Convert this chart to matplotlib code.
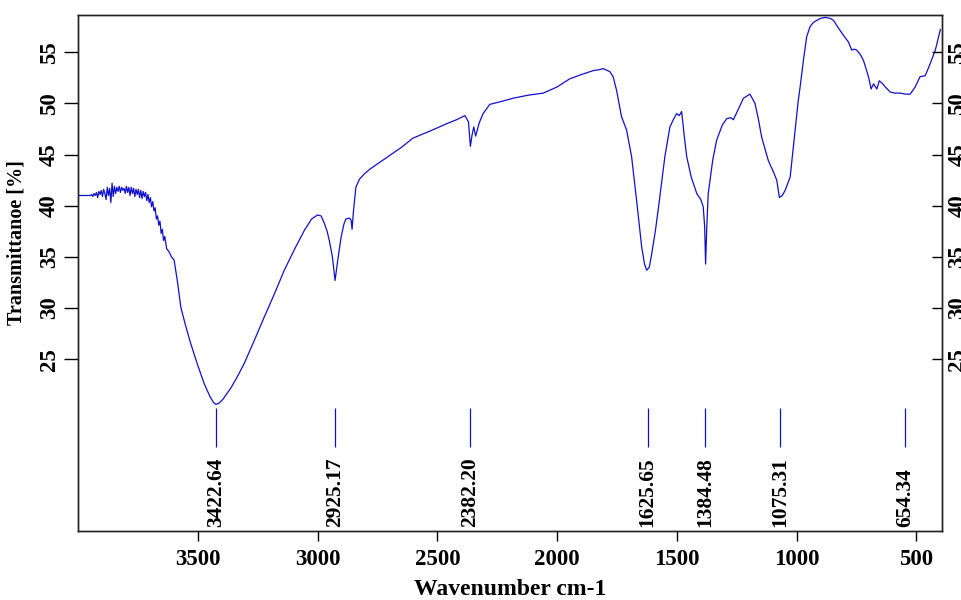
import matplotlib
matplotlib.use("Agg")
import matplotlib.pyplot as plt

plt.rcParams['font.family'] = ['Liberation Serif', 'DejaVu Serif']
plt.rcParams['font.weight'] = 'bold'

# spectrum (wavenumber in cm-1, transmittance in %)
wavenumber = [
    4000, 3980, 3960, 3948, 3943, 3938, 3933, 3928, 3923, 3918, 3913, 3908,
    3903, 3898, 3893, 3888, 3883, 3878, 3873, 3868, 3863, 3858, 3853, 3848,
    3843, 3838, 3833, 3828, 3823, 3818, 3813, 3808, 3803, 3798, 3793, 3788,
    3783, 3778, 3773, 3768, 3763, 3758, 3753, 3748, 3743, 3738, 3733, 3728,
    3723, 3718, 3713, 3708, 3703, 3698, 3693, 3688, 3683, 3678, 3673, 3668,
    3663, 3658, 3653, 3648, 3643, 3638, 3630, 3620, 3610, 3599, 3585, 3571,
    3550, 3529, 3500, 3473, 3450, 3435, 3425, 3412, 3395, 3380, 3362, 3335,
    3306, 3265, 3223, 3180, 3139, 3095, 3055, 3025, 3000, 2985, 2972, 2960,
    2951, 2938, 2927, 2915, 2902, 2890, 2882, 2867, 2860, 2856, 2850, 2840,
    2825, 2805, 2780, 2749, 2700, 2650, 2602, 2530, 2462, 2420, 2385, 2370,
    2362, 2355, 2348, 2340, 2325, 2309, 2281, 2230, 2184, 2120, 2058, 2000,
    1947, 1900, 1849, 1821, 1808, 1780, 1766, 1752, 1731, 1710, 1689, 1668,
    1647, 1635, 1626, 1615, 1605, 1590, 1578, 1550, 1529, 1515, 1501, 1490,
    1480, 1470, 1459, 1440, 1417, 1400, 1390, 1384, 1380, 1375, 1369, 1350,
    1334, 1310, 1292, 1275, 1264, 1240, 1222, 1195, 1174, 1160, 1146, 1118,
    1095, 1083, 1072, 1060, 1048, 1027, 1010, 993, 986, 970, 958, 944,
    930, 916, 900, 881, 860, 846, 818, 800, 784, 770, 760, 749,
    735, 721, 700, 689, 679, 665, 655, 640, 630, 609, 590, 568,
    545, 526, 505, 485, 463, 442, 421, 400,
]
transmittance = [
    41.0, 41.0, 41.0, 41.0, 41.1, 40.9, 41.2, 41.0, 41.3, 40.8, 41.4, 41.1,
    41.5, 40.9, 41.6, 41.2, 40.6, 41.8, 41.0, 41.7, 40.3, 42.2, 40.9, 41.9,
    41.2, 41.8, 41.4, 41.9, 41.3, 41.8, 41.5, 41.7, 41.2, 41.9, 41.3, 41.8,
    41.0, 41.8, 41.2, 41.7, 40.9, 41.6, 41.1, 41.6, 40.8, 41.5, 40.7, 41.4,
    40.9, 41.3, 40.5, 41.1, 40.3, 40.8, 39.9, 40.4, 39.5, 39.8, 38.7, 39.0,
    38.1, 38.5, 37.3, 37.7, 36.6, 37.0, 35.8, 35.5, 35.0, 34.7, 32.6, 30.1,
    28.2, 26.5, 24.4, 22.6, 21.4, 20.8, 20.6, 20.7, 21.1, 21.6, 22.2, 23.3,
    24.6, 26.8, 29.1, 31.4, 33.7, 35.8, 37.6, 38.7, 39.1, 39.0, 38.3, 37.5,
    36.6, 35.0, 32.7, 34.8, 36.9, 38.2, 38.7, 38.8, 38.6, 37.7, 39.5, 41.8,
    42.6, 43.1, 43.6, 44.1, 44.9, 45.7, 46.6, 47.3, 48.0, 48.4, 48.8, 48.2,
    45.8, 46.9, 47.7, 46.8, 48.1, 49.0, 49.9, 50.2, 50.5, 50.8, 51.0, 51.6,
    52.4, 52.8, 53.2, 53.3, 53.4, 53.1, 52.6, 51.3, 48.7, 47.4, 44.8, 40.5,
    36.0, 34.3, 33.7, 34.0, 35.3, 37.5, 39.6, 44.8, 47.7, 48.4, 49.0, 48.8,
    49.2, 47.0, 44.8, 42.8, 41.2, 40.6, 39.9, 38.0, 34.3, 38.0, 41.2, 44.5,
    46.4, 47.9, 48.5, 48.6, 48.4, 49.6, 50.5, 50.9, 50.0, 48.5, 46.7, 44.4,
    43.2, 42.5, 40.8, 41.0, 41.5, 42.8, 46.5, 50.3, 51.5, 54.5, 56.5, 57.5,
    57.9, 58.1, 58.3, 58.4, 58.3, 58.1, 57.1, 56.5, 56.0, 55.2, 55.3, 55.2,
    54.8, 54.2, 52.6, 51.4, 51.9, 51.4, 52.2, 51.9, 51.6, 51.1, 51.0, 51.0,
    50.9, 50.9, 51.6, 52.6, 52.7, 53.9, 55.2, 57.2,
]

# annotated peaks: where the marker sits and the text printed under it
peak_position = [3425, 2926, 2362, 1622, 1383, 1069, 547]
peak_label = ['3422.64', '2925.17', '2382.20', '1625.65', '1384.48', '1075.31', '654.34']

blue = '#1010c8'

fig = plt.figure(figsize=(9.61, 6.0), dpi=100)
ax = fig.add_axes([0.0812, 0.1145, 0.8988, 0.86])

ax.plot(wavenumber, transmittance, color=blue, lw=0.9)

ax.vlines(peak_position, 16.4, 20.2, color=blue, lw=0.9)
for pos, lab in zip(peak_position, peak_label):
    ax.text(pos, 8.6, lab, rotation=90, ha='center', va='bottom',
            fontsize=15.5, fontweight='bold')

ax.set_xlim(4000, 394)
ax.set_ylim(8.2, 58.6)
ax.set_xticks([3500, 3000, 2500, 2000, 1500, 1000, 500])
ax.set_yticks([25, 30, 35, 40, 45, 50, 55])

ax.tick_params(axis='x', direction='out', length=7, width=1, pad=6, labelsize=16.5)
ax.tick_params(axis='y', direction='out', length=10, width=1, pad=3, labelsize=16.5)
for t in ax.get_yticklabels():
    t.set_rotation(90)
    t.set_va('center')

# right-hand copy of the y axis, ticks pointing inward, labels run off the edge
ax2 = ax.twinx()
ax2.set_ylim(ax.get_ylim())
ax2.set_yticks([25, 30, 35, 40, 45, 50, 55])
ax2.tick_params(axis='y', direction='in', length=7, width=1, pad=4, labelsize=16.5)
for t in ax2.get_yticklabels():
    t.set_rotation(90)
    t.set_va('center')

for a in (ax, ax2):
    for s in a.spines.values():
        s.set_linewidth(1.0)
        s.set_color('#222222')

ax.set_xlabel('Wavenumber cm-1', fontsize=17, fontweight='bold', labelpad=6)
ax.set_ylabel('Transmittanoe [%]', fontsize=14.5, fontweight='bold')
ax.yaxis.set_label_coords(-0.06, 0.56)

fig.savefig('out.png', dpi=100)
